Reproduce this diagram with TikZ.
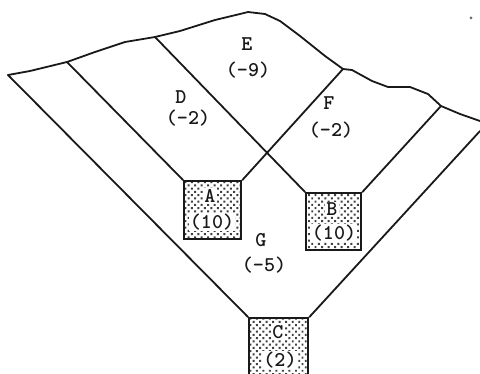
\documentclass[tikz,border=0pt]{standalone}
\usepackage{fontspec}
\usetikzlibrary{patterns.meta}
\tikzset{
  x=1pt,y=-1pt,
  ink/.style={draw=black!90,line width=1.8pt,line join=round,line cap=round},
  stipple/.style={draw=black!90,line width=2.4pt,minimum size=0pt,inner sep=0pt,anchor=north west,
    pattern={Dots[distance=4.6pt,radius=1.4pt,angle=45]},pattern color=black!75},
  lab/.style={font=\ttfamily\bfseries\fontsize{21}{23}\selectfont,text=black!90,inner sep=0pt},
  boxlab/.style={lab,fill=white,inner xsep=1pt,inner ysep=1pt}
}
\begin{document}
\begin{tikzpicture}
\useasboundingbox (0,0) rectangle (480,374);
\node[stipple,minimum width=57pt,minimum height=58pt] (boxA) at (183,180) {};
\node[stipple,minimum width=55pt,minimum height=57pt] (boxB) at (305,192) {};
\node[stipple,minimum width=59pt,minimum height=62pt] (boxC) at (248,317) {};
\coordinate (p0) at (8,75);
\coordinate (p1) at (67,62);
\coordinate (p2) at (155,37);
\coordinate (p3) at (343,69);
\coordinate (p4) at (441,106);
\coordinate (p5) at (480,121);
\coordinate (p6) at (480,131);
\draw[ink] (p0) -- (30,71) -- (p1) -- (95,52) -- (125,42) -- (p2) -- (180,31) -- (215,20)
  -- (240,14) -- (248,12) -- (265,14) -- (280,21) -- (300,36) -- (325,56) -- (p3)
  -- (352,70) -- (372,81) -- (388,87) -- (410,87) -- (428,94) -- (p4) -- (460,114) -- (p5);
\draw[ink] (p0) -- (boxC.north west);
\draw[ink] (p1) -- (boxA.north west);
\draw[ink] (p2) -- (boxB.north west);
\draw[ink] (p3) -- (boxA.north east);
\draw[ink] (p4) -- (boxB.north east);
\draw[ink] (p6) -- (boxC.north east);
\node[lab] (lE) at (247,44) {E};
\node[lab] (lEv) at (248,70) {(-9)};
\node[lab] (lD) at (181,97) {D};
\node[lab] (lDv) at (188,118) {(-2)};
\node[lab] (lF) at (329,103) {F};
\node[lab] (lFv) at (331,130) {(-2)};
\node[lab] (lG) at (261,240) {G};
\node[lab] (lGv) at (264,265) {(-5)};
\node[boxlab] (lA) at (210,196) {A};
\node[boxlab] (lAv) at (212,222) {(10)};
\node[boxlab] (lB) at (332,209) {B};
\node[boxlab] (lBv) at (334,233) {(10)};
\node[boxlab] (lC) at (278,332) {C};
\node[boxlab] (lCv) at (280,360) {(2)};
\fill[black!60] (471,18) circle (1.5pt);
\end{tikzpicture}
\end{document}
